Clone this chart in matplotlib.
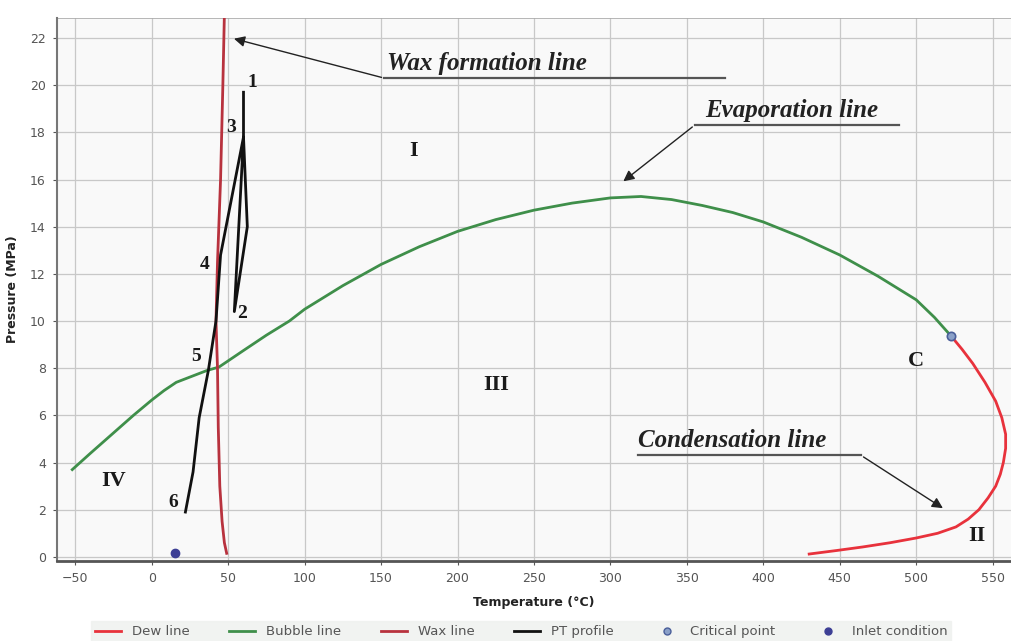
#!/usr/bin/env python3

import matplotlib
matplotlib.use("Agg")
import matplotlib.pyplot as plt
from matplotlib.lines import Line2D

# Bubble (evaporation) line, T in degC, P in MPa
bubble_t = [-52, -40, -26, -12, 0, 8, 16, 26, 36, 44, 60, 75, 90, 100, 125, 150, 175, 200, 225,
            250, 275, 300, 320, 340, 360, 380, 400, 425, 450, 475, 500, 512, 523]
bubble_p = [3.7, 4.4, 5.2, 6.0, 6.65, 7.05, 7.4, 7.65, 7.9, 8.05, 8.75, 9.4, 10.0, 10.5, 11.5, 12.4,
            13.15, 13.8, 14.3, 14.7, 15.0, 15.22, 15.28, 15.15, 14.9, 14.6, 14.2, 13.55, 12.8,
            11.9, 10.9, 10.15, 9.35]

# Dew (condensation) line from the critical point down to low pressure
dew_t = [523, 530, 537, 545, 552, 556, 558.5, 558.5, 557, 555, 552, 547, 541, 534, 526, 514,
         500, 483, 465, 448, 430]
dew_p = [9.35, 8.8, 8.2, 7.4, 6.6, 5.9, 5.2, 4.6, 4.0, 3.5, 3.0, 2.5, 2.0, 1.6, 1.27, 1.0,
         0.8, 0.6, 0.42, 0.27, 0.12]

# Wax appearance line
wax_t = [49, 47.5, 46, 44.5, 43.5, 43, 42.5, 42, 43, 45, 46.5, 47.5]
wax_p = [0.15, 0.6, 1.5, 3.0, 5.5, 8.0, 9.0, 10.0, 12.5, 16.0, 20.0, 23.0]

# Pipeline PT profile (points 1..6)
pt_t = [60, 60, 62.5, 54, 60, 45, 42, 37, 31, 27, 22]
pt_p = [19.7, 17.8, 14.0, 10.4, 17.8, 12.8, 10.0, 7.9, 5.9, 3.6, 1.9]

critical_point = (523, 9.35)
inlet_point = (15, 0.17)

# Region and profile point labels
region_labels = ["I", "II", "III", "IV", "C"]
region_t = [171, 540, 225, -25, 500]
region_p = [17.2, 0.9, 7.3, 3.2, 8.3]
point_labels = ["1", "2", "3", "4", "5", "6"]
point_t = [66, 59, 52, 34.5, 29, 14]
point_p = [20.1, 10.3, 18.2, 12.4, 8.5, 2.3]

DEW = "#e8323c"
BUBBLE = "#3f8f4a"
WAX = "#b8323e"
PT = "#111111"
SERIF = ["Liberation Serif", "DejaVu Serif"]


def callout(ax, text, text_xy, line_x, line_y, tip_xy):
    # underline + leader arrow, text sits above the underline
    ax.plot(line_x, [line_y, line_y], color="#555555", lw=1.6, zorder=4)
    start = line_x[0] if tip_xy[0] < line_x[0] else line_x[1]
    ax.annotate("", xy=tip_xy, xytext=(start, line_y),
                arrowprops=dict(arrowstyle="-|>", color="#222222", lw=1.0,
                                mutation_scale=16), zorder=4)
    ax.text(text_xy[0], text_xy[1], text, fontsize=18, fontstyle="italic",
            fontweight="bold", family=SERIF, color="#222222", ha="left", va="bottom", zorder=5)


def main() -> None:
    fig = plt.figure(figsize=(10.12, 6.41), dpi=100)
    ax = fig.add_axes([0.0563, 0.125, 0.9427, 0.847])
    ax.set_facecolor("#f9f9f9")

    ax.plot(bubble_t, bubble_p, color=BUBBLE, lw=2.0, zorder=3)
    ax.plot(dew_t, dew_p, color=DEW, lw=2.0, zorder=3)
    ax.plot(wax_t, wax_p, color=WAX, lw=2.0, zorder=3)
    ax.plot(pt_t, pt_p, color=PT, lw=2.0, zorder=3)
    ax.plot(*critical_point, "o", ms=6, mfc="#8aa0c8", mec="#4a5f9a", mew=1.2, zorder=5)
    ax.plot(*inlet_point, "o", ms=6, color="#3d3f95", zorder=5)

    for s, t, p in zip(region_labels, region_t, region_p):
        ax.text(t, p, s, fontsize=16, fontweight="bold", family=SERIF,
                ha="center", va="center", color="#1a1a1a", zorder=5)
    for s, t, p in zip(point_labels, point_t, point_p):
        ax.text(t, p, s, fontsize=14, fontweight="bold", family=SERIF,
                ha="center", va="center", color="#1a1a1a", zorder=5)

    callout(ax, "Wax formation line", (154, 20.45), (152, 375), 20.3, (52, 22.0))
    callout(ax, "Evaporation line", (362, 18.45), (355, 489), 18.3, (307, 15.85))
    callout(ax, "Condensation line", (318, 4.45), (318, 464), 4.3, (519, 2.0))

    ax.set_xlim(-62, 562)
    ax.set_ylim(-0.17, 22.85)
    ax.set_xticks(range(-50, 551, 50))
    ax.set_yticks(range(0, 23, 2))
    ax.grid(True, color="#c8c8c8", lw=0.9)
    ax.set_axisbelow(True)
    ax.tick_params(labelsize=9, colors="#555555", length=3, pad=5)
    for side in ("top", "right"):
        ax.spines[side].set_visible(False)
    ax.spines["left"].set_color("#777777")
    ax.spines["left"].set_linewidth(1.5)
    ax.spines["bottom"].set_color("#555555")
    ax.spines["bottom"].set_linewidth(2.0)
    ax.axhline(22.85, color="#aaaaaa", lw=1.2)

    ax.set_xlabel("Temperature (°C)", fontsize=9, fontweight="bold", color="#222222", labelpad=8)
    ax.set_ylabel("Pressure (MPa)", fontsize=9, fontweight="bold", color="#222222", labelpad=8)

    handles = [
        Line2D([], [], color=DEW, lw=2),
        Line2D([], [], color=BUBBLE, lw=2),
        Line2D([], [], color=WAX, lw=2),
        Line2D([], [], color=PT, lw=2),
        Line2D([], [], ls="", marker="o", ms=5, mfc="#8aa0c8", mec="#4a5f9a"),
        Line2D([], [], ls="", marker="o", ms=5, color="#3d3f95"),
    ]
    names = ["Dew line", "Bubble line", "Wax line", "PT profile", "Critical point", "Inlet condition"]
    leg = fig.legend(handles, names, loc="lower center", bbox_to_anchor=(0.515, -0.012), ncol=6,
                     fontsize=9.5, frameon=True, handlelength=2.0, columnspacing=3.0,
                     borderpad=0.3, fancybox=False)
    leg.get_frame().set_facecolor("#eef1ee")
    leg.get_frame().set_edgecolor("#eef1ee")
    for t in leg.get_texts():
        t.set_color("#555555")

    fig.savefig("out.png", dpi=100)
    plt.close(fig)


if __name__ == "__main__":
    main()
